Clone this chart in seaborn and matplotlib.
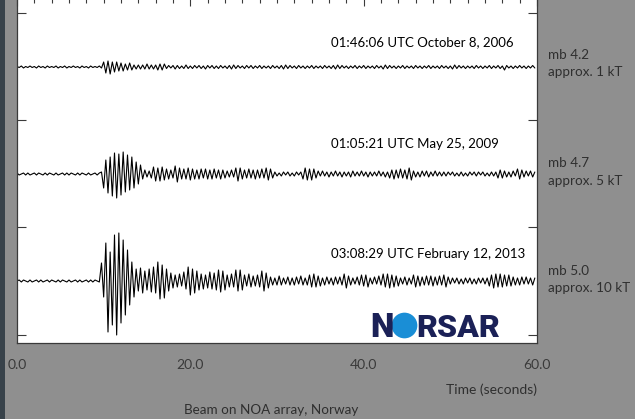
import numpy as np
import matplotlib
matplotlib.use("Agg")
import matplotlib.pyplot as plt
from matplotlib.patches import Rectangle
from matplotlib.ticker import MultipleLocator
import seaborn as sns

# sample spacing of the traces (seconds)
DT = 0.25

# trace amplitudes (pixels, up = positive)
trace_2006 = [
    0.5, -0.5, 1, -1, 0.5, -0.5, 1, -0.5, 0.5, -1, 1, -0.5, 0.5, -1, 1, -0.5, 0.5, -0.5, 1, -1,
    0.5, -0.5, 1, -1, 0.5, -0.5, 1, -0.5, 0.5, -1, 1, -0.5, 0.5, -1, 1, -0.5, 0.5, -0.5, 1,
    -1, 5, -6, 6, -7, 5, -5, 5, -4, 4, -4, 3, -3, 4, -3, 2,
    -2, 2, -2, 2, -2, 3, -2, 2, -2, 2,
    -3, 3, -3, 3,
    -1.5, 1.5, -1, 1.5, -2, 1.5, -1.5, 1, -1.5, 2,
    -1.5, 1, -1.5, 1.5, -1, 1.5, -1.5, 1, -2, 1.5,
    -1, 1.5, -1.5, 1, -1.5, 1.5, -1, 1, -1.5, 1.5,
    -2, 2, -1.5, 1.5, -1, 1, -1.5, 1.5, -1, 1.5,
    -1.5, 1, -1, 1.5, -1.5, 1, -1, 1, -1.5, 1.5,
    -1, 1, -1.5, 1.5, -2, 2, -1.5, 1.5, -1, 1,
    -1.5, 1.5, -1, 1, -1.5, 1, -1, 1.5, -1.5, 1,
    -1, 1, -1.5, 1.5, -1, 1, -1.5, 1.5, -2, 2,
    -1.5, 1.5, -1, 1, -1.5, 1, -1, 1.5, -1.5, 1,
    -1, 1.5, -1.5, 1, -1, 1, -1.5, 1.5, -1, 1,
    -2, 2, -1.5, 1.5, -1, 1, -1.5, 1, -1, 1.5,
    -1.5, 1, -1, 1, -1.5, 1.5, -1, 1, -1.5, 1,
    -1, 1.5, -1.5, 1, -1, 1, -1.5, 1.5, -1, 1,
    -1.5, 1, -2, 2, -1.5, 1.5, -1, 1, -1.5, 1,
    -1, 1, -1.5, 1.5, -1, 1, -1.5, 1, -1, 1.5,
    -1.5, 1, -1, 1.5, -1.5, 1, -3, 1.5, -1, 1,
    -1.5, 1, -1, 1.5, -1, 1, -1.5, 1, -1, 1.5,
    -1,
]

trace_2009 = [
    1, -1, 0, 1, -1, 1, -1, 0, 1, -1, 1, 0, -1, 1, -1, 1, 0, -1, 1, -1,
    0, 1, -1, 1, -1, 1, 0, -1, 1, -1, 1, 0, -1, 1, -1, 0, 1, -1, 1,
    2, -14, 14, -19, 17, -22, 21, -24, 20, -21, 22, -18, 19, -16, 17, -14, 12, -10, 9,
    -5, 4, -3, 3, -4,
    7, -7, 6, -7, 7, -6,
    5, -5, 4, -4,
    8, -8, 6, -5,
    5, -5, 6, -6,
    5, -5, 4, -5, 5, -4, 5, -5,
    4, -5, 5, -4, 4, -5, 4, -4,
    3, -3, 4, -3,
    6, -7, 6, -5,
    4, -4, 5, -4, 4, -5, 4, -4, 5, -4,
    6, -6, 5, -4,
    2, -2, 1, -2, 2, -1, 2, -2, 1, -2, 2, -1, 2,
    -5, 6, -6, 5, -6, 5, -4, 3,
    -2, 3, -2, 2, -3, 2, -2, 3, -2, 2, -3, 2, -2, 2, -3, 3,
    -2, 2, -2, 3, -2, 2, -3, 2, -2, 2, -2, 3, -2, 2, -3, 2,
    -4, 4, -5, 4, -4, 5, -4, 4, -5, 6, -6,
    3, -3, 2, -3, 3, -2, 3, -3, 2, -2, 3, -2, 2, -2, 2, -2, 2, -1, 2, -2,
    1, -2, 2, -2, 1, -2, 2, -1, 2, -2, 2, -1, 2, -2, 1, -2, 2, -2, 2,
    -4, 4, -4, 3,
    -3, 2, -3, 3, -2,
    5, -5, 4,
    -3, 3, -2, 3, -3, 2,
]

trace_2013 = [
    0, 1, -1, 1, 0, -1, 1, -1, 0, 1, -1, 1, -1, 0, 1, -1, 1, 0, -1, 1,
    -1, 1, 0, -1, 1, -1, 0, 1, -1, 1, -1, 0, 1, -1, 1, -1, 1, 0, -1,
    18, -16, 38, -51, 29, -44, 46, -54, 48, -42, 41, -34, 31, -24, 19, -16,
    12, -10, 13, -12, 10, -9, 12, -11, 14, -12,
    19, -18, 16, -17, 12, -10,
    8, -7, 6, -6, 7, -5, 9, -8,
    14, -14, 12, -12, 10, -9,
    7, -8, 6, -7, 9, -8, 8, -9,
    11, -11, 10, -9,
    6, -6, 7, -6,
    11, -10, 11, -9,
    6, -5, 7, -6, 5, -5, 6, -6,
    10, -10, 8, -7,
    4, -4, 3, -4, 5, -4, 3, -3, 4, -4, 3, -4, 4, -3, 5, -4, 3, -4,
    6, -6, 7, -6, 5, -5,
    3, -4, 4, -3, 3, -4, 4, -3, 4, -4,
    7, -7, 5, -4,
    3, -3, 4, -4,
    6, -5, 6, -6,
    3, -3, 4, -3, 5, -4,
    7, -6, 7, -7, 6, -6, 5, -5,
    3, -3, 4, -4, 3, -3,
    6, -6, 5, -5,
    4, -4, 5, -4, 5, -5, 4, -4, 5, -4, 6,
    -6, 4,
    -3, 3, -2, 3, -3, 2, -3, 3, -2, 3, -3, 2, -3, 3, -2, 3, -3, 3,
    -5, 6, -7, 7, -6, 7, -6, 6, -5, 6, -5, 4,
    -4, 3, -4, 4, -3, 4, -3, 3, -4, 3,
]

traces = [trace_2006, trace_2009, trace_2013]
offsets = [3, 2, 1]
event_labels = ["01:46:06 UTC October 8, 2006",
                "01:05:21 UTC May 25, 2009",
                "03:08:29 UTC February 12, 2013"]
magnitudes = ["mb 4.2", "mb 4.7", "mb 5.0"]
yields = ["approx. 1 kT", "approx. 5 kT", "approx. 10 kT"]
x_ticks = [0, 20, 40, 60]

PX_PER_UNIT = 107.0  # pixel spacing between traces

sns.set_style("white")
plt.rcParams['font.family'] = ['Lato', 'DejaVu Sans']

W, H = 635, 419
fig = plt.figure(figsize=(W / 100, H / 100), dpi=100)
fig.patch.set_facecolor('#8f8f8f')
fig.patches.append(Rectangle((0, 0), 5 / W, 1, transform=fig.transFigure,
                             facecolor='#38424a', edgecolor='none', zorder=0))

ax = fig.add_axes([17 / W, 76 / H, 520 / W, 345 / H])
ax.set_facecolor('white')

for vals, off in zip(traces, offsets):
    t = np.arange(len(vals)) * DT
    y = off + np.array(vals, dtype=float) / PX_PER_UNIT
    sns.lineplot(x=t, y=y, ax=ax, color='black', lw=0.8, estimator=None, sort=False)

ax.set_xlim(0, 60)
ax.set_ylim(1 - 62 / PX_PER_UNIT, 3 + 69 / PX_PER_UNIT)

ax.spines['top'].set_visible(False)
for s in ['left', 'right', 'bottom']:
    ax.spines[s].set_color('#3a3a3a')
    ax.spines[s].set_linewidth(0.9)

ax.set_xticks(x_ticks)
ax.set_xticklabels([f"{v:.1f}" for v in x_ticks])
ax.xaxis.set_minor_locator(MultipleLocator(2))
ax.tick_params(axis='x', which='major', direction='out', length=7.5, width=0.8,
               color='#3a3a3a', labelsize=10, labelcolor='#3a3a3a', pad=4)
ax.tick_params(axis='x', which='minor', direction='out', length=4, width=0.8, color='#3a3a3a')

ax.set_yticks([0.5, 1.5, 2.5, 3.5])
ax.tick_params(axis='y', direction='in', left=True, right=True, length=6.5, width=0.8,
               color='#3a3a3a', labelleft=False)
ax.set_xlabel('')
ax.set_ylabel('')

top = ax.secondary_xaxis('top')
top.set_xticks(x_ticks)
top.xaxis.set_minor_locator(MultipleLocator(2))
top.tick_params(axis='x', which='major', direction='in', length=5.8, width=0.8,
                color='#3a3a3a', labeltop=False)
top.tick_params(axis='x', which='minor', direction='in', length=3.6, width=0.8, color='#3a3a3a')
top.spines['top'].set_visible(False)

label_y = [3 + 25 / PX_PER_UNIT, 2 + 30.5 / PX_PER_UNIT, 1 + 27.5 / PX_PER_UNIT]
for lab, yy in zip(event_labels, label_y):
    ax.text(36.2, yy, lab, fontsize=9.5, color='black', ha='left', va='center')

mag_px = [55, 163, 271]
yld_px = [72.5, 181, 288]
for m, yl, my, yy in zip(magnitudes, yields, mag_px, yld_px):
    fig.text(548 / W, 1 - my / H, m, fontsize=9.7, color='#2f2f2f', ha='left', va='center')
    fig.text(548 / W, 1 - yy / H, yl, fontsize=9.7, color='#2f2f2f', ha='left', va='center')

fig.text(537 / W, 1 - 390 / H, 'Time (seconds)', fontsize=10, color='#2f2f2f',
         ha='right', va='center')
fig.text(271 / W, 1 - 410 / H, 'Beam on NOA array, Norway', fontsize=9.7, color='#2f2f2f',
         ha='center', va='center')

# NORSAR logo
navy = '#1b2157'
base_y = 1 - (337 - 281) / PX_PER_UNIT
ax.text((370 - 17) / 520 * 60, base_y, 'N', fontsize=24, fontweight='black',
        family=['Roboto', 'DejaVu Sans'], color=navy, ha='left', va='baseline')
ax.plot([(404 - 17) / 520 * 60], [1 - (325 - 281) / PX_PER_UNIT], marker='o',
        markersize=18.5, color='#1a8ed6', markeredgewidth=0)
ax.text((416 - 17) / 520 * 60, base_y, 'RSAR', fontsize=23, fontweight='black',
        family=['Roboto', 'DejaVu Sans'], color=navy, ha='left', va='baseline')

fig.savefig('out.png', dpi=100, facecolor=fig.get_facecolor())
